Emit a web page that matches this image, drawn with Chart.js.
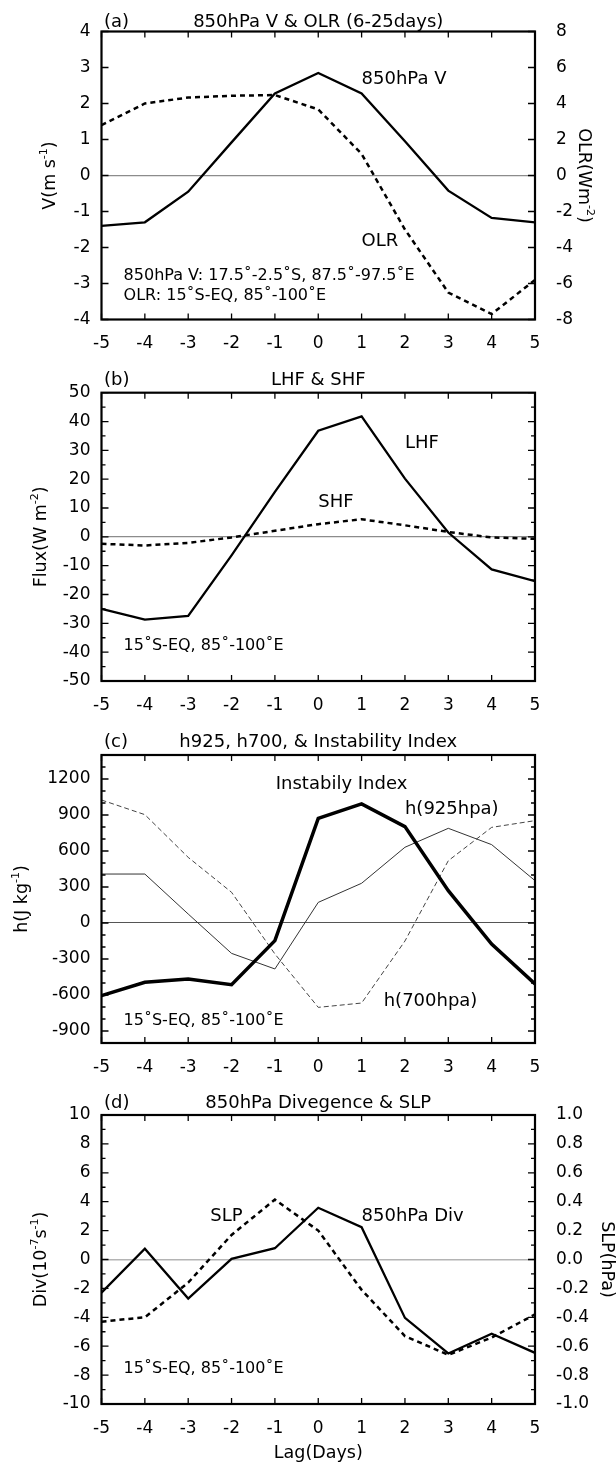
<!DOCTYPE html>
<html>
<head>
<meta charset="utf-8">
<script src="https://cdn.jsdelivr.net/npm/chart.js@4.4.1/dist/chart.umd.min.js"></script>
<style>
  html, body { margin: 0; padding: 0; background: #fff; }
  body { width: 616px; height: 1465px; position: relative; overflow: hidden; }
  canvas { position: absolute; left: 0; }
</style>
</head>
<body>
<canvas id="panelA" width="616" height="360" style="top:0px"></canvas>
<canvas id="panelB" width="616" height="360" style="top:360px"></canvas>
<canvas id="panelC" width="616" height="360" style="top:720px"></canvas>
<canvas id="panelD" width="616" height="385" style="top:1080px"></canvas>
<script>
// lag in days, shared by all four panels
const lags = [-5, -4, -3, -2, -1, 0, 1, 2, 3, 4, 5]

// (a) 850hPa V (m/s, left) and OLR (W/m2, right)
const v850 = [-1.40, -1.30, -0.45, 0.92, 2.28, 2.85, 2.28, 0.95, -0.42, -1.18, -1.30]
const olr = [2.8, 4.0, 4.33, 4.43, 4.47, 3.67, 1.2, -3.0, -6.5, -7.7, -5.8]
const vTicks = [-4, -3, -2, -1, 0, 1, 2, 3, 4]
const olrTicks = [-8, -6, -4, -2, 0, 2, 4, 6, 8]

// (b) latent and sensible heat flux
const lhf = [-25.0, -28.7, -27.4, -6.4, 15.6, 36.8, 41.8, 20.2, 1.5, -11.3, -15.4]
const shf = [-2.4, -3.0, -2.1, -0.2, 2.1, 4.4, 6.1, 4.0, 1.7, -0.2, -0.7]
const fluxTicks = [-50, -40, -30, -20, -10, 0, 10, 20, 30, 40, 50]

// (c) moist static energy and instability index
const instab = [-605, -494, -467, -514, -147, 872, 992, 803, 269, -175, -508]
const h925 = [408, 408, 75, -253, -383, 172, 331, 631, 789, 653, 353]
const h700 = [1025, 903, 547, 256, -258, -703, -667, -150, 519, 797, 853]
const hTicks = [-900, -600, -300, 0, 300, 600, 900, 1200]

// (d) 850hPa divergence (left) and SLP (right)
const div850 = [-2.3, 0.74, -2.7, 0.05, 0.78, 3.58, 2.24, -4.04, -6.5, -5.14, -6.46]
const slp = [-0.43, -0.40, -0.16, 0.17, 0.415, 0.20, -0.21, -0.53, -0.66, -0.54, -0.38]
const divTicks = [-10, -8, -6, -4, -2, 0, 2, 4, 6, 8, 10]
const slpTicks = [-1.0, -0.8, -0.6, -0.4, -0.2, 0.0, 0.2, 0.4, 0.6, 0.8, 1.0]

const FONT = '"DejaVu Sans", "Liberation Sans", Arial, sans-serif'
const PLOT_LEFT = 101.5
const PLOT_RIGHT = 535
const W = 616

Chart.defaults.color = '#000'
Chart.defaults.font.family = FONT

const pts = (ys) => lags.map((x, i) => ({ x: x, y: ys[i] }))

function richText(ctx, parts, x, y, rot, size) {
    ctx.save()
    ctx.translate(x, y)
    ctx.rotate(rot)
    const big = size + 'px ' + FONT
    const small = Math.round(size * 0.62) + 'px ' + FONT
    let w = 0
    parts.forEach(p => { ctx.font = p[1] ? small : big; w += ctx.measureText(p[0]).width })
    let cx = -w / 2
    ctx.textBaseline = 'middle'
    ctx.textAlign = 'left'
    ctx.fillStyle = '#000'
    parts.forEach(p => {
        ctx.font = p[1] ? small : big
        ctx.fillText(p[0], cx, p[1] ? -size * 0.33 : 0)
        cx += ctx.measureText(p[0]).width
    })
    ctx.restore()
}

// frame, inward ticks, titles and in-plot labels
const decor = {
    id: 'decor',
    afterDatasetsDraw(chart, args, o) {
        const ctx = chart.ctx
        const a = chart.chartArea
        const xs = chart.scales.x
        const ys = chart.scales.y
        ctx.save()
        ctx.strokeStyle = '#000'
        ctx.lineWidth = 1.3
        ctx.beginPath()
        xs.ticks.forEach(t => {
            const px = xs.getPixelForValue(t.value)
            ctx.moveTo(px, a.bottom); ctx.lineTo(px, a.bottom - 6)
            ctx.moveTo(px, a.top); ctx.lineTo(px, a.top + 6)
        })
        ys.ticks.forEach(t => {
            const py = ys.getPixelForValue(t.value)
            ctx.moveTo(a.left, py); ctx.lineTo(a.left + 7, py)
            ctx.moveTo(a.right, py); ctx.lineTo(a.right - 7, py)
        })
        if (o.minor) {
            const n = Math.round((ys.max - ys.min) / o.minor)
            for (let i = 0; i <= n; i++) {
                const v = ys.min + i * o.minor
                if (ys.ticks.some(t => Math.abs(t.value - v) < 1e-6)) continue
                const py = ys.getPixelForValue(v)
                ctx.moveTo(a.left, py); ctx.lineTo(a.left + 4, py)
                ctx.moveTo(a.right, py); ctx.lineTo(a.right - 4, py)
            }
        }
        ctx.stroke()

        ctx.lineWidth = 2.2
        ctx.strokeRect(a.left, a.top, a.right - a.left, a.bottom - a.top)

        // panel title
        ctx.fillStyle = '#000'
        ctx.textBaseline = 'alphabetic'
        ctx.font = '18px ' + FONT
        ctx.textAlign = 'left'
        ctx.fillText(o.letter, a.left + 2.5, a.top - o.titleGap)
        ctx.textAlign = 'center'
        ctx.fillText(o.title, (a.left + a.right) / 2, a.top - o.titleGap)

        // labels inside the plot
        ctx.textAlign = 'left'
        ctx.textBaseline = 'middle'
        o.notes.forEach(n => {
            ctx.font = n.size + 'px ' + FONT
            ctx.fillText(n.t, xs.getPixelForValue(n.x), ys.getPixelForValue(n.y))
        })

        // axis titles
        const midY = (a.top + a.bottom) / 2
        richText(ctx, o.yTitle, o.yTitleX, midY, -Math.PI / 2, 17.5)
        if (o.y1Title) richText(ctx, o.y1Title, o.y1TitleX, midY, Math.PI / 2, 17.5)
        if (o.xTitle) richText(ctx, [[o.xTitle, 0]], (a.left + a.right) / 2, o.xTitleY, 0, 17.5)
        ctx.restore()
    }
}

function fixedTicks(list) {
    return (scale) => { scale.ticks = list.map(v => ({ value: v })) }
}

function makePanel(id, p) {
    const canvas = document.getElementById(id)
    const H = canvas.height
    const scales = {
        x: {
            type: 'linear',
            min: -5,
            max: 5,
            afterBuildTicks: fixedTicks(lags),
            afterFit: (s) => { s.height = H - p.plotBottom },
            ticks: { font: { size: 17 }, padding: 6, callback: (v) => String(v) },
            grid: { display: false },
            border: { display: false }
        },
        y: {
            type: 'linear',
            position: 'left',
            min: p.yMin,
            max: p.yMax,
            afterBuildTicks: fixedTicks(p.yTicks),
            afterFit: (s) => { s.width = PLOT_LEFT },
            ticks: { font: { size: 17 }, padding: 11, callback: (v) => String(v) },
            grid: {
                drawTicks: false,
                color: (c) => (c.tick && c.tick.value === 0) ? p.zeroColor : 'rgba(0,0,0,0)',
                lineWidth: p.zeroWidth
            },
            border: { display: false }
        }
    }
    if (p.y1Ticks) {
        scales.y1 = {
            type: 'linear',
            position: 'right',
            min: p.y1Min,
            max: p.y1Max,
            afterBuildTicks: fixedTicks(p.y1Ticks),
            afterFit: (s) => { s.width = W - PLOT_RIGHT },
            ticks: { font: { size: 17 }, padding: 13, callback: p.y1Format || ((v) => String(v)) },
            grid: { display: false },
            border: { display: false }
        }
    }
    return new Chart(canvas.getContext('2d'), {
        type: 'line',
        data: { datasets: p.datasets },
        options: {
            responsive: false,
            animation: false,
            devicePixelRatio: 1,
            layout: {
                padding: { top: p.plotTop, left: 0, bottom: 0, right: p.y1Ticks ? 0 : W - PLOT_RIGHT }
            },
            elements: { point: { radius: 0 }, line: { tension: 0, borderColor: '#000' } },
            scales: scales,
            plugins: {
                legend: { display: false },
                tooltip: { enabled: false },
                decor: p.decor
            }
        },
        plugins: [decor]
    })
}

makePanel('panelA', {
    plotTop: 31.5, plotBottom: 319.5,
    yMin: -4, yMax: 4, yTicks: vTicks,
    y1Min: -8, y1Max: 8, y1Ticks: olrTicks,
    zeroColor: '#8c8c8c', zeroWidth: 1.2,
    datasets: [
        { label: '850hPa V', data: pts(v850), borderWidth: 2.3, yAxisID: 'y' },
        { label: 'OLR', data: pts(olr), borderWidth: 2.5, borderDash: [5, 4], yAxisID: 'y1' }
    ],
    decor: {
        letter: '(a)', title: '850hPa V & OLR (6-25days)', titleGap: 5,
        yTitle: [['V(m s', 0], ['-1', 1], [')', 0]], yTitleX: 50,
        y1Title: [['OLR(Wm', 0], ['-2', 1], [')', 0]], y1TitleX: 584,
        notes: [
            { t: '850hPa V', x: 1.0, y: 2.68, size: 18 },
            { t: 'OLR', x: 1.0, y: -1.83, size: 18 },
            { t: '850hPa V: 17.5˚-2.5˚S, 87.5˚-97.5˚E', x: -4.49, y: -2.80, size: 16 },
            { t: 'OLR: 15˚S-EQ, 85˚-100˚E', x: -4.49, y: -3.35, size: 16 }
        ]
    }
})

makePanel('panelB', {
    plotTop: 32.7, plotBottom: 321,
    yMin: -50, yMax: 50, yTicks: fluxTicks,
    zeroColor: '#8c8c8c', zeroWidth: 1.2,
    datasets: [
        { label: 'LHF', data: pts(lhf), borderWidth: 2.3 },
        { label: 'SHF', data: pts(shf), borderWidth: 2.5, borderDash: [5, 4] }
    ],
    decor: {
        letter: '(b)', title: 'LHF & SHF', minor: 5, titleGap: 7.5,
        yTitle: [['Flux(W m', 0], ['-2', 1], [')', 0]], yTitleX: 41,
        notes: [
            { t: 'LHF', x: 2.0, y: 32.4, size: 18 },
            { t: 'SHF', x: 0.0, y: 12.1, size: 18 },
            { t: '15˚S-EQ, 85˚-100˚E', x: -4.49, y: -37.9, size: 16 }
        ]
    }
})

makePanel('panelC', {
    plotTop: 35, plotBottom: 323,
    yMin: -1000, yMax: 1400, yTicks: hTicks,
    zeroColor: '#555', zeroWidth: 1,
    datasets: [
        { label: 'Instability Index', data: pts(instab), borderWidth: 3.5 },
        { label: 'h(925hpa)', data: pts(h925), borderWidth: 1, borderColor: '#333' },
        { label: 'h(700hpa)', data: pts(h700), borderWidth: 1, borderColor: '#444', borderDash: [5, 3] }
    ],
    decor: {
        letter: '(c)', title: 'h925, h700, & Instability Index', minor: 100, titleGap: 8,
        yTitle: [['h(J kg', 0], ['-1', 1], [')', 0]], yTitleX: 22,
        notes: [
            { t: 'Instabily Index', x: -0.98, y: 1153, size: 18 },
            { t: 'h(925hpa)', x: 2.0, y: 950, size: 18 },
            { t: 'h(700hpa)', x: 1.51, y: -653, size: 18 },
            { t: '15˚S-EQ, 85˚-100˚E', x: -4.49, y: -814, size: 16 }
        ]
    }
})

makePanel('panelD', {
    plotTop: 35, plotBottom: 324,
    yMin: -10, yMax: 10, yTicks: divTicks,
    y1Min: -1, y1Max: 1, y1Ticks: slpTicks, y1Format: (v) => v.toFixed(1),
    zeroColor: '#b4b4b4', zeroWidth: 1.6,
    datasets: [
        { label: '850hPa Div', data: pts(div850), borderWidth: 2.3, yAxisID: 'y' },
        { label: 'SLP', data: pts(slp), borderWidth: 2.5, borderDash: [5, 4], yAxisID: 'y1' }
    ],
    decor: {
        letter: '(d)', title: '850hPa Divegence & SLP', minor: 1, titleGap: 7,
        yTitle: [['Div(10', 0], ['-7', 1], ['s', 0], ['-1', 1], [')', 0]], yTitleX: 41,
        y1Title: [['SLP(hPa)', 0]], y1TitleX: 607,
        xTitle: 'Lag(Days)', xTitleY: 373,
        notes: [
            { t: 'SLP', x: -2.49, y: 3.0, size: 18 },
            { t: '850hPa Div', x: 1.0, y: 3.0, size: 18 },
            { t: '15˚S-EQ, 85˚-100˚E', x: -4.49, y: -7.6, size: 16 }
        ]
    }
})
</script>
</body>
</html>
